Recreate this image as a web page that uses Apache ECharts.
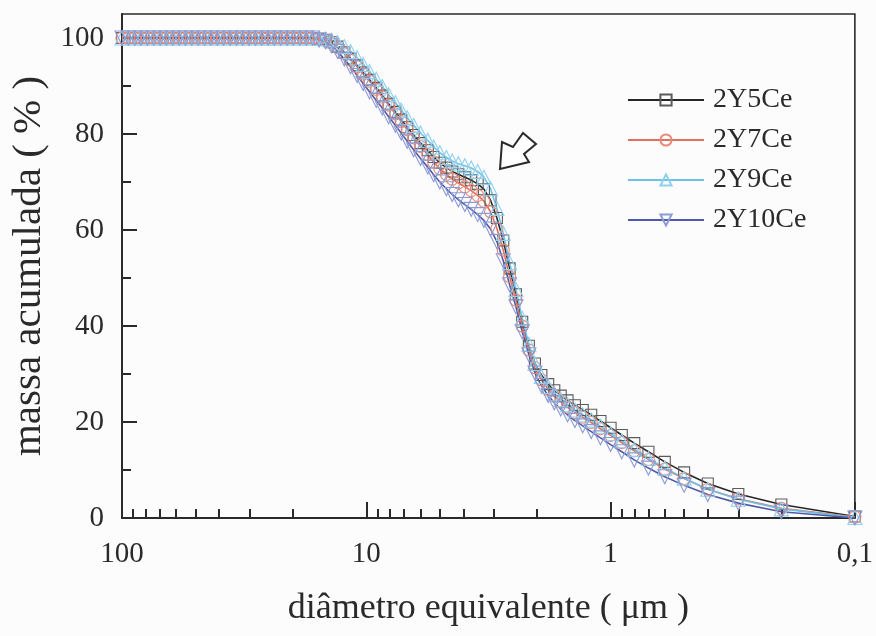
<!DOCTYPE html>
<html>
<head>
<meta charset="utf-8">
<script src="https://cdn.jsdelivr.net/npm/echarts@6/dist/echarts.min.js"></script>
<style>
  html, body { margin: 0; padding: 0; background: #fcfcfd; }
  #chart { width: 876px; height: 636px; }
</style>
</head>
<body>
<div id="chart"></div>
<script>
// diâmetro equivalente (µm) — mesmos pontos para as quatro amostras
const diameters = [
  100, 94.2, 88.7, 83.6, 78.7, 74.1, 69.8, 65.8, 62.0, 58.3,
  55.0, 51.8, 48.8, 45.9, 43.3, 40.7, 38.4, 36.1, 34.0, 32.1,
  30.2, 28.4, 26.8, 25.2, 23.8, 22.4, 21.1, 19.9, 18.7, 17.6,
  16.6, 15.6, 14.7, 13.9, 13.1, 12.3, 11.6, 10.9, 10.3, 9.7,
  9.1, 8.6, 8.1, 7.6, 7.2, 6.8, 6.4, 6.0, 5.6, 5.3,
  5.0, 4.7, 4.45, 4.2, 3.95, 3.72, 3.5, 3.3, 3.1, 2.92,
  2.75, 2.59, 2.44, 2.3, 2.16, 2.04, 1.92, 1.8, 1.7, 1.6,
  1.5, 1.4, 1.3, 1.2, 1.1, 1.0, 0.9, 0.8, 0.7, 0.6,
  0.5, 0.4, 0.3, 0.2, 0.1,
];

// massa acumulada (%)
const y2Y5Ce = [
  100, 100, 100, 100, 100, 100, 100, 100, 100, 100,
  100, 100, 100, 100, 100, 100, 100, 100, 100, 100,
  100, 100, 100, 100, 100, 100, 100, 100, 100, 100,
  100, 99.8, 99.6, 99.1, 98.2, 97.0, 95.7, 94.3, 92.8, 91.3,
  89.6, 88.0, 86.3, 84.6, 83.0, 81.4, 79.8, 78.1, 76.6, 75.2,
  74.0, 73.0, 72.2, 71.6, 71.0, 70.4, 69.6, 68.5, 66.2, 62.5,
  57.8, 52.0, 46.6, 40.9, 35.9, 32.2, 29.8, 27.9, 26.6, 25.5,
  24.5, 23.5, 22.5, 21.5, 20.2, 18.8, 17.3, 15.6, 13.8, 11.7,
  9.5, 7.2, 5.0, 2.8, 0.3,
];
const y2Y7Ce = [
  100, 100, 100, 100, 100, 100, 100, 100, 100, 100,
  100, 100, 100, 100, 100, 100, 100, 100, 100, 100,
  100, 100, 100, 100, 100, 100, 100, 100, 100, 100,
  100, 99.8, 99.5, 99.0, 98.0, 96.8, 95.4, 94.0, 92.5, 91.0,
  89.3, 87.7, 86.0, 84.2, 82.6, 80.9, 79.2, 77.4, 75.7, 74.1,
  72.8, 71.6, 70.6, 69.8, 69.0, 68.2, 67.2, 66.0, 63.8, 60.3,
  55.8, 50.3, 45.4, 40.0, 35.0, 31.3, 28.8, 26.8, 25.4, 24.2,
  23.1, 22.0, 21.0, 19.9, 18.6, 17.2, 15.7, 14.0, 12.2, 10.2,
  8.2, 6.0, 4.0, 2.0, 0.2,
];
const y2Y9Ce = [
  100, 100, 100, 100, 100, 100, 100, 100, 100, 100,
  100, 100, 100, 100, 100, 100, 100, 100, 100, 100,
  100, 100, 100, 100, 100, 100, 100, 100, 100, 100,
  100, 99.9, 99.8, 99.6, 99.0, 98.2, 97.2, 95.9, 94.5, 93.0,
  91.4, 89.9, 88.2, 86.5, 85.0, 83.4, 81.8, 80.2, 78.7, 77.3,
  76.1, 75.1, 74.4, 73.8, 73.4, 72.9, 72.2, 71.0, 68.6, 64.5,
  59.3, 53.2, 47.6, 41.6, 36.2, 32.2, 29.5, 27.4, 25.9, 24.7,
  23.6, 22.5, 21.5, 20.4, 19.1, 17.6, 16.1, 14.3, 12.4, 10.4,
  8.3, 6.0, 3.9, 1.9, 0.1,
];
const y2Y10Ce = [
  100, 100, 100, 100, 100, 100, 100, 100, 100, 100,
  100, 100, 100, 100, 100, 100, 100, 100, 100, 100,
  100, 100, 100, 100, 100, 100, 100, 100, 100, 100,
  100, 99.6, 99.2, 98.4, 97.2, 95.6, 94.0, 92.2, 90.5, 88.8,
  87.0, 85.4, 83.6, 81.8, 80.2, 78.5, 76.7, 74.9, 73.1, 71.5,
  70.0, 68.6, 67.4, 66.3, 65.3, 64.3, 63.2, 62.0, 60.2, 57.6,
  53.6, 48.6, 44.0, 38.8, 34.0, 30.2, 27.6, 25.5, 24.0, 22.7,
  21.5, 20.3, 19.2, 18.0, 16.7, 15.3, 13.8, 12.1, 10.4, 8.6,
  6.8, 4.9, 3.1, 1.3, 0.0,
];

// marcas dos eixos
const xMinorTicks = [
  90, 80, 70, 60, 50, 40, 30, 20,
  9, 8, 7, 6, 5, 4, 3, 2,
  0.9, 0.8, 0.7, 0.6, 0.5, 0.4, 0.3, 0.2,
];
const yMajorTicks = [0, 20, 40, 60, 80, 100];
const yMinorTicks = [10, 30, 50, 70, 90];

const SERIF = "'Liberation Serif', 'DejaVu Serif', serif";
const INK = '#2a2a2a';
const DOWN_TRI = 'path://M0,0 L10,0 L5,8.66 Z';

function makeSeries(name, ys, symbol, size, lineColor, markColor) {
  return {
    name,
    type: 'line',
    data: diameters.map((d, i) => [d, ys[i]]),
    symbol,
    symbolSize: size,
    showAllSymbol: true,
    lineStyle: { color: lineColor, width: 1.6 },
    itemStyle: { color: 'rgba(255,255,255,0)', borderColor: markColor, borderWidth: 1.1 },
    emphasis: { disabled: true },
  };
}

const chart = echarts.init(document.getElementById('chart'), null, { renderer: 'canvas' });

chart.setOption({
  animation: false,
  backgroundColor: '#fcfcfd',
  textStyle: { fontFamily: SERIF, color: INK },
  grid: {
    left: 122, right: 17, top: 14, bottom: 118,
    show: true, borderColor: INK, borderWidth: 1.6, backgroundColor: 'transparent',
  },
  legend: {
    orient: 'vertical',
    left: 622, top: 81,
    itemWidth: 76, itemHeight: 14, itemGap: 12,
    textStyle: { fontFamily: SERIF, fontSize: 28, color: INK, padding: [0, 0, 0, 4] },
    data: ['2Y5Ce', '2Y7Ce', '2Y9Ce', '2Y10Ce'],
  },
  xAxis: [
    {
      type: 'log', logBase: 10, min: 0.1, max: 100, inverse: true,
      name: 'diâmetro equivalente ( μm )',
      nameLocation: 'middle', nameGap: 73,
      nameTextStyle: { fontFamily: SERIF, fontSize: 36, color: INK },
      axisLine: { lineStyle: { color: INK, width: 2 } },
      axisTick: { inside: true, length: 16, lineStyle: { color: INK, width: 2 } },
      axisLabel: {
        fontFamily: SERIF, fontSize: 29, color: INK, margin: 22,
        formatter: (v) => String(v).replace('.', ','),
      },
      splitLine: { show: false },
    },
    {
      type: 'log', logBase: 10, min: 0.1, max: 100, inverse: true,
      position: 'bottom',
      axisLine: { show: false },
      axisTick: { inside: true, length: 9, customValues: xMinorTicks, lineStyle: { color: INK, width: 2 } },
      axisLabel: { show: false },
      splitLine: { show: false },
    },
  ],
  yAxis: [
    {
      type: 'value', min: 0, max: 105,
      name: 'massa acumulada ( % )',
      nameLocation: 'middle', nameGap: 71, nameRotate: 90,
      nameTextStyle: { fontFamily: SERIF, fontSize: 41, color: INK },
      axisLine: { show: true, lineStyle: { color: INK, width: 2 } },
      axisTick: { show: true, inside: true, length: 15, customValues: yMajorTicks, lineStyle: { color: INK, width: 2 } },
      axisLabel: { fontFamily: SERIF, fontSize: 29, color: INK, margin: 18, customValues: yMajorTicks },
      splitLine: { show: false },
    },
    {
      type: 'value', min: 0, max: 105,
      position: 'left',
      axisLine: { show: false },
      axisTick: { show: true, inside: true, length: 9, customValues: yMinorTicks, lineStyle: { color: INK, width: 2 } },
      axisLabel: { show: false },
      splitLine: { show: false },
    },
  ],
  series: [
    makeSeries('2Y5Ce', y2Y5Ce, 'rect', 11, '#262626', '#5a5a5a'),
    makeSeries('2Y7Ce', y2Y7Ce, 'circle', 12, '#e0705e', '#e88a78'),
    makeSeries('2Y9Ce', y2Y9Ce, 'triangle', 14, '#6ec1e6', '#8fd0ee'),
    makeSeries('2Y10Ce', y2Y10Ce, DOWN_TRI, 14, '#4e5aa8', '#8c9ad6'),
  ],
  graphic: [
    {
      // seta indicando o "ombro" da curva
      type: 'polygon',
      shape: {
        points: [[500, 169], [502, 142], [513, 147], [523, 133], [536, 144], [524, 154], [529, 162]],
      },
      style: { fill: '#ffffff', stroke: INK, lineWidth: 2 },
      z: 10,
    },
  ],
});
</script>
</body>
</html>
